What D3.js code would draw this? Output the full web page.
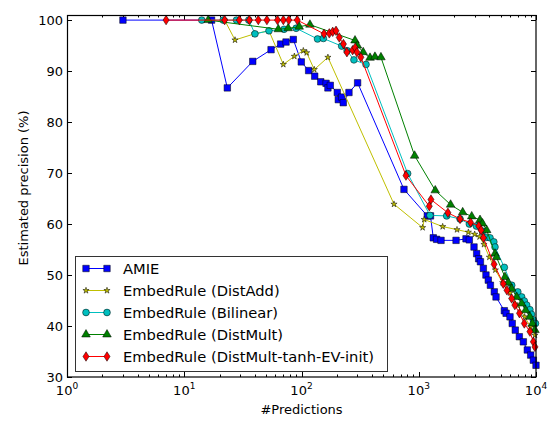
<!DOCTYPE html>
<html>
<head>
<meta charset="utf-8">
<script src="https://cdn.jsdelivr.net/npm/d3@7"></script>
<style>
  body { margin: 0; background: #fff; }
  text { font-family: "DejaVu Sans", sans-serif; fill: #000; }
</style>
</head>
<body>
<div id="chart"></div>
<script>
// series, [#predictions, precision %]
var amie = [[3,100],[17.1,100],[23.3,86.7],[38.4,91.9],[55,94.2],[66.4,95.3],[73.8,95.7],[85.1,96.2],
    [99.6,91.8],[115,90.1],[129.6,89],[146,87.9],[162,87.6],[168,86.7],[176,87.2],[202,85.8],[206,84.4],
    [220,84.9],[227,83.8],[254,85.8],[301,87.7],[748,66.8],[1183,61.6],[1259,61.6],[1330,57.3],[1420,57.0],
    [1549,56.8],[2080,56.8],[2530,57.1],[2700,56.9],[2960,55.5],[3118,54.2],[3243,53.2],[3358,52.6],
    [3556,51.3],[3744,50],[3918,49],[4084,48],[4409,46.7],[4561,45.7],[5370,43],[5560,42.5],[6000,41.8],
    [6270,40.5],[6658,39.2],[7210,37.9],[7800,36.9],[8430,35.3],[9010,34.3],[9490,33.3],[10000,32.3]];
var distAdd = [[22.1,100],[27.1,96.1],[39.6,97.3],[52.8,97.9],[70,91.3],[86.9,92.9],[103.6,94],[110.7,93.6],
    [128.5,90.3],[168,92.7],[615,63.9],[1079,59.3],[1114,60.9],[1600,59.5],[2120,58.9],[2650,58.4],
    [3000,58],[3300,57.5],[3600,56],[4000,53.5],[4500,51],[5200,48.5],[6000,46.5],[7000,44],[8000,41.8],
    [9000,39.8],[9800,38.2]];
var bilinear = [[14.1,100],[21.5,100],[27.9,100],[35.5,100],[40.1,97.3],[52.8,97.9],[71,98.2],[90,98.4],
    [137,96.3],[153.6,96.4],[220,94.9],[245,94],[280,92.2],[355,91.3],[804,69.9],[1247,61.7],[1730,61.6],
    [2250,61],[2700,60],[3100,59.6],[3506,58.6],[3800,57.4],[4054,57.3],[4370,56.5],[4470,55.5],[5370,51.5],
    [6210,48],[7000,46.7],[7550,45.7],[7950,44.9],[8330,44.1],[8870,43.2],[9150,42.3],[9490,41.2],[9900,40.5]];
var distMult = [[16,100],[63.4,98.2],[77,98.4],[95.6,98.7],[118,99.1],[286,96],[300,95],[336,93.7],
    [384,92.6],[423,92.8],[476,92.7],[922,73.4],[1383,66.6],[1870,63.8],[2370,62.3],[2830,61.5],
    [3330,60.8],[3500,60.1],[3800,58.8],[4470,54.2],[4600,53.5],[5440,49.6],[5800,48.5],[6200,47.3],
    [6840,45.7],[7550,44.4],[8150,43.1],[8870,41.8],[9330,40.5],[9800,39.2]];
var distMultTanh = [[7,100],[22.1,100],[29.5,100],[35.9,100],[42.8,100],[50.7,100],[62.4,100],[70,100],
    [77.9,100],[92,100],[155.6,97.3],[172.6,97.4],[184.6,97.7],[197,97.9],[210,96.6],[228,95.3],
    [244,93.7],[273,94.1],[287,94.6],[297,93.7],[321,92.7],[778,69.5],[1230,63.5],[1271,64.8],
    [1774,62.2],[2250,61],[2770,60.3],[3250,59.6],[3400,58.8],[3560,57.3],[4390,52.1],[5260,48.3],
    [5650,47],[6200,45.4],[6600,44.1],[7230,42.5],[7950,40.5],[8870,38.9],[9490,36.9],[9800,35.9]];

var seriesNames = ["AMIE", "EmbedRule (DistAdd)", "EmbedRule (Bilinear)", "EmbedRule (DistMult)",
    "EmbedRule (DistMult-tanh-EV-init)"];
var yTicks = [30, 40, 50, 60, 70, 80, 90, 100];
var xTicks = [1, 10, 100, 1000, 10000];

var thinDiamond = {
    draw: function(ctx, size) {
        var h = Math.sqrt(size) * 0.75, w = h * 0.64;
        ctx.moveTo(0, -h); ctx.lineTo(w, 0); ctx.lineTo(0, h); ctx.lineTo(-w, 0); ctx.closePath();
    }
};

var series = [
    {name: seriesNames[0], data: amie, color: "#0000ff", sym: d3.symbolSquare, size: 42},
    {name: seriesNames[1], data: distAdd, color: "#bfbf00", sym: d3.symbolStar, size: 12},
    {name: seriesNames[2], data: bilinear, color: "#00bfbf", sym: d3.symbolCircle, size: 36},
    {name: seriesNames[3], data: distMult, color: "#008000", sym: d3.symbolTriangle, size: 32},
    {name: seriesNames[4], data: distMultTanh, color: "#ff0000", sym: thinDiamond, size: 40}
];

var margin = {top: 15, right: 21, bottom: 45, left: 67},
    width = 557 - margin.left - margin.right,
    height = 422 - margin.top - margin.bottom;

var x = d3.scaleLog().domain([1, 10000]).range([0, width]);
var y = d3.scaleLinear().domain([30, 101]).range([height, 0]);

var svg = d3.select("#chart").append("svg")
    .attr("width", 557)
    .attr("height", 422)
    .append("g")
    .attr("transform", "translate(" + margin.left + "," + margin.top + ")");

var minor = [];
for (var e = 0; e < 4; e++) for (var k = 2; k < 10; k++) minor.push(k * Math.pow(10, e));

// ticks, pointing inward on all four sides
var tk = svg.append("g").attr("stroke", "#000").attr("stroke-width", 1);
xTicks.forEach(function(d) {
    var px = Math.round(x(d)) + 0.5;
    tk.append("line").attr("x1", px).attr("x2", px).attr("y1", height).attr("y2", height - 5);
    tk.append("line").attr("x1", px).attr("x2", px).attr("y1", 0).attr("y2", 5);
});
minor.forEach(function(d) {
    var px = Math.round(x(d)) + 0.5;
    tk.append("line").attr("x1", px).attr("x2", px).attr("y1", height).attr("y2", height - 2.5);
    tk.append("line").attr("x1", px).attr("x2", px).attr("y1", 0).attr("y2", 2.5);
});
yTicks.forEach(function(d) {
    var py = Math.round(y(d)) + 0.5;
    tk.append("line").attr("x1", 0).attr("x2", 5).attr("y1", py).attr("y2", py);
    tk.append("line").attr("x1", width).attr("x2", width - 5).attr("y1", py).attr("y2", py);
});

var line = d3.line()
    .x(function(d) { return x(d[0]); })
    .y(function(d) { return y(d[1]); });

var plot = svg.append("g");
series.forEach(function(s) {
    var g = plot.append("g");
    g.append("path")
        .datum(s.data)
        .attr("fill", "none")
        .attr("stroke", s.color)
        .attr("stroke-width", 1)
        .attr("d", line);
    g.selectAll("path.m")
        .data(s.data)
        .enter().append("path")
        .attr("class", "m")
        .attr("d", d3.symbol().type(s.sym).size(s.size))
        .attr("transform", function(d) { return "translate(" + x(d[0]) + "," + y(d[1]) + ")"; })
        .attr("fill", s.color)
        .attr("stroke", "#000")
        .attr("stroke-width", 0.5);
});

// frame
svg.append("rect")
    .attr("x", 0.5).attr("y", 0.5)
    .attr("width", width - 0.5).attr("height", height - 0.5)
    .attr("fill", "none").attr("stroke", "#000").attr("stroke-width", 1.2);

// tick labels
svg.selectAll("text.yt")
    .data(yTicks)
    .enter().append("text")
    .attr("class", "yt")
    .attr("x", -4)
    .attr("y", function(d) { return y(d); })
    .attr("dy", "0.35em")
    .attr("text-anchor", "end")
    .style("font-size", "13px")
    .text(function(d) { return d; });

var xt = svg.selectAll("text.xt")
    .data(xTicks)
    .enter().append("text")
    .attr("class", "xt")
    .attr("x", function(d) { return x(d); })
    .attr("y", height + 18)
    .attr("text-anchor", "middle")
    .style("font-size", "13px");
xt.append("tspan").text("10");
xt.append("tspan")
    .attr("dy", -6)
    .style("font-size", "9px")
    .text(function(d) { return Math.round(Math.log10(d)); });

svg.append("text")
    .attr("x", width / 2)
    .attr("y", height + 37)
    .attr("text-anchor", "middle")
    .style("font-size", "13px")
    .text("#Predictions");

svg.append("text")
    .attr("transform", "translate(" + (-39) + "," + (height / 2 - 8) + ") rotate(-90)")
    .attr("text-anchor", "middle")
    .style("font-size", "13px")
    .text("Estimated precision (%)");

// legend
var lg = svg.append("g").attr("transform", "translate(8,241)");
lg.append("rect")
    .attr("x", 0.5).attr("y", 0.5)
    .attr("width", 312).attr("height", 115)
    .attr("fill", "#fff").attr("stroke", "#333").attr("stroke-width", 1);
series.forEach(function(s, i) {
    var row = lg.append("g").attr("transform", "translate(0," + (12.5 + i * 22) + ")");
    row.append("line")
        .attr("x1", 11).attr("x2", 32).attr("y1", 0).attr("y2", 0)
        .attr("stroke", s.color).attr("stroke-width", 1);
    [11, 32].forEach(function(px) {
        row.append("path")
            .attr("d", d3.symbol().type(s.sym).size(s.size))
            .attr("transform", "translate(" + px + ",0)")
            .attr("fill", s.color).attr("stroke", "#000").attr("stroke-width", 0.5);
    });
    row.append("text")
        .attr("x", 48)
        .attr("dy", "0.35em")
        .style("font-size", "14.7px")
        .text(s.name);
});
</script>
</body>
</html>
